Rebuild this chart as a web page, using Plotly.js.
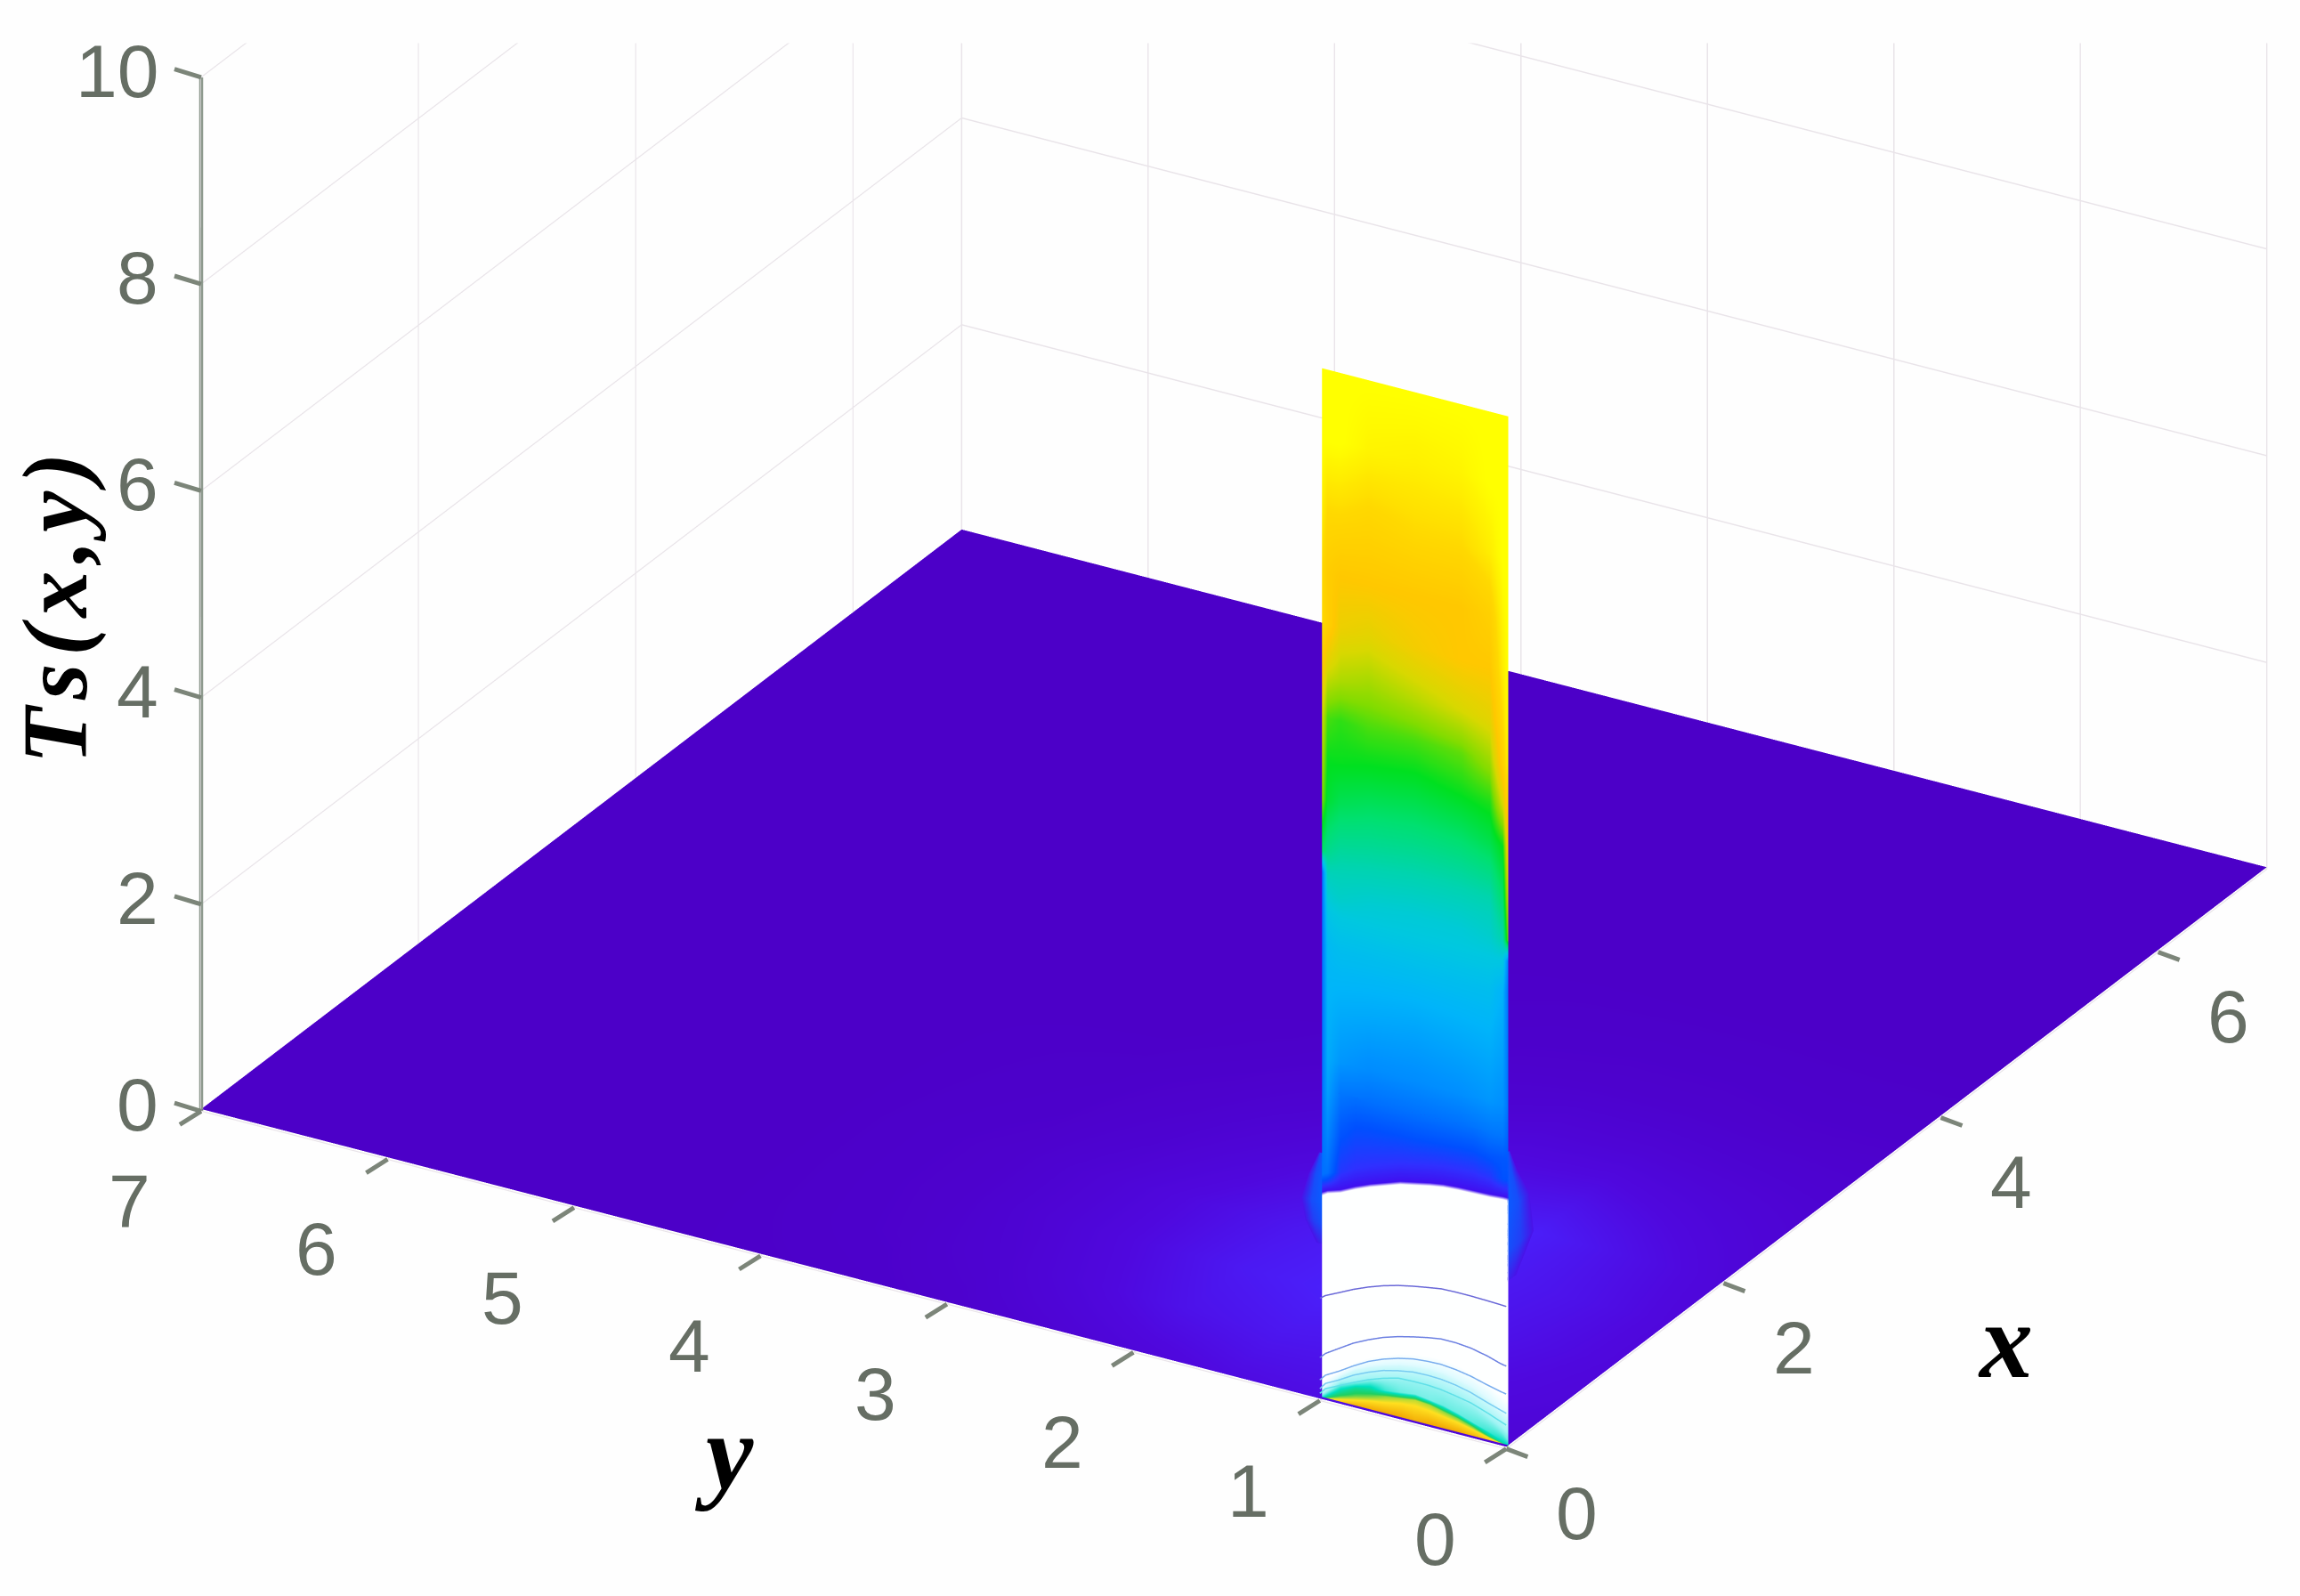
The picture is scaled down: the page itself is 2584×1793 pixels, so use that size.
<!DOCTYPE html>
<html>
<head>
<meta charset="utf-8">
<script src="https://cdn.plot.ly/plotly-3.0.1.min.js"></script>
<style>html,body{margin:0;padding:0;background:#fefefe}#chart{width:2584px;height:1793px}</style>
</head>
<body>
<div id="chart"></div>
<script>
// Axis ticks
const xTicks = [0, 2, 4, 6];
const yTicks = [0, 1, 2, 3, 4, 5, 6, 7];
const zTicks = [0, 2, 4, 6, 8, 10];

const plateX = [0, 0.5, 1, 1.5, 2, 2.5, 3, 3.5, 4.5, 7];
const plateY = [0, 0.5, 1, 1.5, 2, 2.5, 3, 3.5, 4.5, 7];
const plateGlow = [
  [0.30, 0.40, 0.45, 0.45, 0.40, 0.30, 0.20, 0.10, 0, 0],
  [0.45, 0.55, 0.65, 0.70, 0.65, 0.45, 0.25, 0.10, 0, 0],
  [0.60, 0.75, 0.85, 0.90, 0.95, 0.60, 0.30, 0.12, 0, 0],
  [0.55, 0.80, 1.00, 1.00, 0.85, 0.55, 0.30, 0.12, 0, 0],
  [0.40, 0.70, 0.85, 0.80, 0.65, 0.40, 0.20, 0.10, 0, 0],
  [0.25, 0.45, 0.55, 0.55, 0.40, 0.25, 0.12, 0.05, 0, 0],
  [0.12, 0.22, 0.30, 0.30, 0.20, 0.12, 0.05, 0, 0, 0],
  [0.05, 0.10, 0.12, 0.12, 0.08, 0.05, 0, 0, 0, 0],
  [0, 0, 0, 0, 0, 0, 0, 0, 0, 0],
  [0, 0, 0, 0, 0, 0, 0, 0, 0, 0]
];
const plateScale = [[0, '#4c00c8'], [0.5, '#4f08de'], [1, '#4a20fb']];
const PLATE_Z = 0.02;

// Hot wall at x = 0, lower part (to z = 3): columns along y, rows are iso-colour arcs
const lowY = [1, 0.97, 0.9, 0.82, 0.74, 0.66, 0.58, 0.5, 0.42, 0.35, 0.27, 0.19, 0.1, 0.03, 0];
const lowZ = [
  [0, 0, 0, 0, 0, 0, 0, 0, 0, 0, 0, 0, 0, 0, 0],
  [0.003, 0.015, 0.04, 0.07, 0.10, 0.12, 0.15, 0.16, 0.15, 0.13, 0.11, 0.08, 0.04, 0.015, 0.005],
  [0.006, 0.03, 0.08, 0.12, 0.15, 0.18, 0.20, 0.22, 0.21, 0.18, 0.15, 0.11, 0.06, 0.025, 0.008],
  [0.01, 0.05, 0.13, 0.19, 0.22, 0.24, 0.26, 0.28, 0.26, 0.24, 0.20, 0.15, 0.10, 0.05, 0.02],
  [0.03, 0.08, 0.19, 0.25, 0.31, 0.35, 0.38, 0.40, 0.40, 0.38, 0.35, 0.30, 0.22, 0.12, 0.06],
  [0.08, 0.14, 0.26, 0.36, 0.42, 0.47, 0.51, 0.53, 0.54, 0.53, 0.50, 0.46, 0.38, 0.30, 0.26],
  [0.16, 0.22, 0.32, 0.44, 0.52, 0.58, 0.63, 0.66, 0.68, 0.68, 0.66, 0.62, 0.55, 0.47, 0.44],
  [1.965, 2.00, 2.04, 2.11, 2.17, 2.22, 2.27, 2.30, 2.33, 2.35, 2.36, 2.365, 2.37, 2.38, 2.38],
  [2.00, 2.03, 2.07, 2.14, 2.20, 2.25, 2.30, 2.33, 2.36, 2.38, 2.39, 2.395, 2.40, 2.41, 2.41],
  [2.17, 2.20, 2.24, 2.31, 2.37, 2.42, 2.47, 2.50, 2.53, 2.55, 2.56, 2.565, 2.57, 2.58, 2.58],
  [2.72, 2.72, 2.72, 2.72, 2.74, 2.74, 2.75, 2.75, 2.76, 2.77, 2.78, 2.78, 2.78, 2.78, 2.78],
  [3, 3, 3, 3, 3, 3, 3, 3, 3, 3, 3, 3, 3, 3, 3]
];
const lowLevel = [
  [-5, -6, -6.7, -7, -7, -7, -7, -6.8, -7, -7, -7, -6.8, -6.5, -5.5, -5],
  [-6, -6, -6, -6, -6, -6, -6, -6, -6, -6, -6, -6, -6, -6, -6],
  [-4.6, -4.8, -5, -5.2, -5.3, -5.5, -5.6, -5.7, -5.6, -5.5, -5.4, -5.2, -4.5, -4.3, -4.2],
  [-4, -4, -4.2, -4.4, -4.3, -3.6, -3.3, -3.2, -3.2, -3.3, -3.3, -3.4, -3.6, -3.9, -4],
  [-3.3, -3.2, -3.2, -3, -3, -3, -3, -3, -3, -3, -3, -3, -3, -3.2, -3.3],
  [-2.2, -2.2, -2.2, -2.2, -2.2, -2.2, -2.2, -2.2, -2.2, -2.2, -2.2, -2.2, -2.2, -2.2, -2.2],
  [-1, -1, -1, -1, -1, -1, -1, -1, -1, -1, -1, -1, -1, -1, -1],
  [-1, -1, -1, -1, -1, -1, -1, -1, -1, -1, -1, -1, -1, -1, -1],
  [0, 0, 0, 0, 0, 0, 0, 0, 0, 0, 0, 0, 0, 0, 0],
  [3, 3, 1.2, 1, 1, 1, 1, 1, 1, 1, 1, 1, 1.2, 2, 2],
  [3, 4, 2.4, 2, 2, 2, 2, 2, 2, 2, 2, 2, 2.2, 2.2, 2.2],
  [3, 4.5, 3.2, 3, 3, 3, 3, 3, 3, 3, 3, 3, 3.2, 3.2, 2.5]
];

// Hot wall, upper part: heights and levels along the same wall
const upY = [1, 0.97, 0.9, 0.75, 0.5, 0.25, 0.1, 0.03, 0];
const upZ = [3, 3.3, 3.8, 4.4, 4.7, 4.9, 5.1, 5.3, 5.8, 6.2, 6.6, 7, 7.5, 8, 8.6, 9.3, 9.97];
const upLevel = [
  [3, 4.5, 3.2, 3, 3, 3, 3.2, 3.2, 2.5],
  [3, 4.8, 4.2, 3.9, 3.9, 4, 4.2, 4, 3],
  [3, 5, 4.8, 4.7, 4.6, 4.7, 4.8, 4.5, 3],
  [3, 5.3, 5.5, 5.5, 5.5, 5.5, 5.5, 5, 3],
  [3, 5.8, 6, 6, 6, 6, 6, 6, 3.5],
  [3, 6.3, 6.5, 6.3, 6.2, 6.2, 6.4, 7, 10],
  [3, 6.8, 6.8, 6.7, 6.6, 6.6, 6.7, 7.5, 10.5],
  [8, 7.5, 7.2, 7.1, 7, 7, 7.1, 8, 11],
  [10, 8.7, 8.3, 8.1, 8, 8.1, 8.4, 9, 12],
  [10.5, 9, 9, 8.9, 8.8, 9, 9.2, 11, 13],
  [11, 9.5, 9.3, 9.5, 9.5, 9.7, 10.3, 12.5, 13.7],
  [12, 10.8, 10.5, 10.3, 10.6, 11, 11.3, 13, 14],
  [13, 12.5, 11.5, 11.3, 11.7, 12, 12, 13.5, 14],
  [13, 12.3, 12, 12, 12, 12, 12.5, 13.7, 14],
  [13.5, 13, 13, 12.8, 13, 13, 13.5, 14, 14],
  [14, 14, 14, 13.7, 13.6, 13.7, 14, 14, 14],
  [14, 14, 14, 14, 14, 14, 14, 14, 14]
];
const wallKeys = [-7, -6, -5, -4, -3, -2, -1, 0, 1, 2, 3, 4, 5, 6, 7, 8, 9, 10, 11, 12, 13, 14];
const wallColors = ['#f0a000', '#ffe020', '#20d060', '#00e0c0', '#a0f4f4', '#e0fbff', '#ffffff',
  '#4010f0', '#3030ff', '#0050ff', '#0070ff', '#0090ff', '#00b4fa', '#00c8e0', '#00d4b0',
  '#00e070', '#00e020', '#80dc00', '#d8d800', '#ffc800', '#ffd800', '#ffff00'];

// Contour arcs on the white part of the wall: height along lowY, colour
const arc1 = [0.99, 1.03, 1.09, 1.16, 1.22, 1.27, 1.31, 1.34, 1.365, 1.385, 1.39, 1.39, 1.385, 1.38, 1.377];
const arc2 = [0.416, 0.47, 0.55, 0.64, 0.71, 0.77, 0.815, 0.85, 0.88, 0.90, 0.90, 0.886, 0.85, 0.81, 0.80];
const arc3 = [0.20, 0.26, 0.33, 0.42, 0.50, 0.56, 0.605, 0.637, 0.65, 0.654, 0.64, 0.614, 0.57, 0.54, 0.53];
const arc4 = [0.115, 0.18, 0.245, 0.33, 0.396, 0.45, 0.485, 0.51, 0.515, 0.51, 0.49, 0.456, 0.40, 0.36, 0.344];
const arc5 = [0.07, 0.13, 0.19, 0.26, 0.324, 0.375, 0.414, 0.42, 0.42, 0.41, 0.385, 0.356, 0.30, 0.25, 0.23];
const arcColors = ['#6a68d8', '#6c80e2', '#78acee', '#78ccf2', '#60e0e8'];

// Blue flares beside the wall: row height, outer reach, fade across the flare
const flareLeftZ = [1.5, 1.7, 1.9, 2.15, 2.38];
const flareLeftW = [0.03, 0.09, 0.11, 0.07, 0.015];
const flareRightZ = [1.6, 1.9, 2.3, 2.6, 2.85];
const flareRightW = [0.08, 0.24, 0.2, 0.09, 0.02];
const flareFade = [0, 0.5, 1];
const flareStrength = [
  [0.2, 0.1, 0],
  [0.85, 0.6, 0],
  [1, 0.8, 0],
  [1, 0.8, 0],
  [0.9, 0.7, 0]
];
const flareColor = [[0, '#4a12e8'], [1, '#0a5cff']];

const flat = {ambient: 1, diffuse: 0, specular: 0, roughness: 1, fresnel: 0};
const WALL_X = 0.02;
const wallScale = wallKeys.map((k, i) => [(k + 7) / 21, wallColors[i]]);

const traces = [
  {
    type: 'surface', x: plateX, y: plateY,
    z: plateGlow.map(r => r.map(() => PLATE_Z)),
    surfacecolor: plateGlow, cmin: 0, cmax: 1, colorscale: plateScale,
    showscale: false, lighting: flat, hoverinfo: 'skip'
  },
  {
    type: 'surface',
    x: lowZ.map(r => r.map(() => WALL_X)),
    y: lowZ.map(() => lowY),
    z: lowZ,
    surfacecolor: lowLevel, cmin: -7, cmax: 14, colorscale: wallScale,
    showscale: false, lighting: flat, hoverinfo: 'skip'
  },
  {
    type: 'surface',
    x: upZ.map(() => upY.map(() => WALL_X)),
    y: upZ.map(() => upY),
    z: upZ.map(z => upY.map(() => z)),
    surfacecolor: upLevel, cmin: -7, cmax: 14, colorscale: wallScale,
    showscale: false, lighting: flat, hoverinfo: 'skip'
  },
  {
    type: 'surface',
    x: flareLeftZ.map(() => flareFade.map(() => WALL_X)),
    y: flareLeftW.map(w => flareFade.map(f => 1 + w * f)),
    z: flareLeftZ.map(z => flareFade.map(() => z)),
    surfacecolor: flareStrength, cmin: 0, cmax: 1, colorscale: flareColor,
    showscale: false, lighting: flat, hoverinfo: 'skip'
  },
  {
    type: 'surface',
    x: flareRightW.map(w => flareFade.map(f => WALL_X + w * f)),
    y: flareRightZ.map(() => flareFade.map(() => 0.005)),
    z: flareRightZ.map(z => flareFade.map(() => z)),
    surfacecolor: flareStrength, cmin: 0, cmax: 1, colorscale: flareColor,
    showscale: false, lighting: flat, hoverinfo: 'skip'
  },
  {
    type: 'scatter3d', mode: 'lines',
    x: zTicks.map(() => 0), y: zTicks.map(() => 7), z: zTicks,
    line: {color: '#8e9a8e', width: 9}, hoverinfo: 'skip', showlegend: false
  }
];
[arc1, arc2, arc3, arc4, arc5].forEach((arc, i) => traces.push({
  type: 'scatter3d', mode: 'lines',
  x: lowY.map(() => 0), y: lowY, z: arc,
  line: {color: arcColors[i], width: 3}, hoverinfo: 'skip', showlegend: false
}));

const tickFont = {family: 'Liberation Sans, Arial, sans-serif', size: 84, color: '#666e64'};
const titleFont = {family: 'Liberation Serif, Times New Roman, serif', size: 120, color: '#000000'};
const zTitleFont = {family: 'Liberation Serif, Times New Roman, serif', size: 104, color: '#000000'};
const axisBase = {
  showbackground: false, showspikes: false, zeroline: false, showline: false,
  showgrid: true, gridcolor: '#e9e4e9', gridwidth: 3, ticks: '', showticklabels: false,
  tickmode: 'array', title: {text: ''}
};
const eyeDir = {x: -0.774, y: -0.451, z: 0.444};
const camCenter = {x: -0.209, y: 0, z: -0.3647};
const camDist = 3;

const tickNote = (o) => Object.assign({showarrow: false, font: tickFont, borderpad: 0, borderwidth: 0}, o);
const tickMark = (o) => Object.assign({text: ' ', showarrow: true, arrowhead: 0, arrowwidth: 5,
  arrowcolor: '#7c8579', standoff: 0, startstandoff: 0}, o);
const sceneNotes = []
  .concat(xTicks.map(v => tickNote({x: v, y: 0, z: 0, text: String(v), xshift: 79, yshift: -72})))
  .concat(yTicks.map(v => tickNote({x: 0, y: v, z: 0, text: String(v), xshift: -80, yshift: -101})))
  .concat(zTicks.map(v => tickNote({x: 0, y: 7, z: v, text: String(v), xanchor: 'right', xshift: -48, yshift: 7})))
  .concat(xTicks.map(v => tickMark({x: v, y: 0, z: 0, ax: 27, ay: 10})))
  .concat(yTicks.map(v => tickMark({x: 0, y: v, z: 0, ax: -27, ay: 17})))
  .concat(zTicks.map(v => tickMark({x: 0, y: 7, z: v, ax: -33, ay: -10})));

const layout = {
  width: 2584, height: 1793, margin: {l: 0, r: 0, t: 0, b: 0},
  paper_bgcolor: '#fefefe', showlegend: false,
  scene: {
    domain: {x: [0, 1], y: [0, 1]},
    aspectmode: 'manual', aspectratio: {x: 1.893, y: 1.893, z: 1.446},
    bgcolor: '#fefefe',
    camera: {
      projection: {type: 'orthographic'},
      up: {x: 0, y: 0, z: 1},
      center: camCenter,
      eye: {x: camCenter.x + camDist * eyeDir.x, y: camCenter.y + camDist * eyeDir.y, z: camCenter.z + camDist * eyeDir.z}
    },
    xaxis: Object.assign({}, axisBase, {range: [0, 7], tickvals: xTicks, ticktext: xTicks.map(String)}),
    yaxis: Object.assign({}, axisBase, {range: [0, 7], tickvals: yTicks, ticktext: yTicks.map(String)}),
    zaxis: Object.assign({}, axisBase, {range: [0, 10], tickvals: zTicks, ticktext: zTicks.map(String)}),
    annotations: sceneNotes
  },
  shapes: [{type: 'rect', xref: 'paper', yref: 'paper', x0: 0, x1: 1, y0: 0.973, y1: 1,
    fillcolor: '#fefefe', line: {width: 0}, layer: 'above'}],
  annotations: [
    {xref: 'paper', yref: 'paper', x: 0.872, y: 0.16, xanchor: 'center', yanchor: 'middle', text: '<b><i>x</i></b>', showarrow: false, font: titleFont},
    {xref: 'paper', yref: 'paper', x: 0.315, y: 0.09, xanchor: 'center', yanchor: 'middle', text: '<b><i>y</i></b>', showarrow: false, font: titleFont},
    {xref: 'paper', yref: 'paper', x: 0.024, y: 0.619, xanchor: 'center', yanchor: 'middle', text: '<b><i>T\u200As\u200A(\u200Ax\u200A,\u200Ay\u200A)</i></b>', textangle: -90, showarrow: false, font: zTitleFont}
  ]
};
Plotly.newPlot('chart', traces, layout, {displayModeBar: false, responsive: false});
</script>
</body>
</html>
